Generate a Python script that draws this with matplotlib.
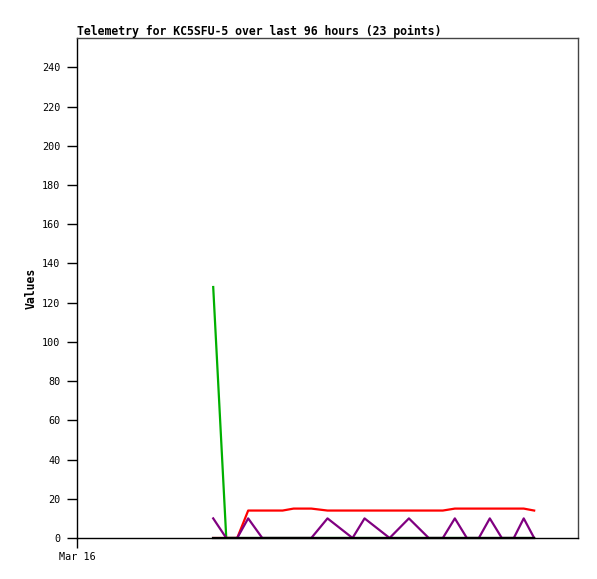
import matplotlib
matplotlib.use("Agg")
import matplotlib.pyplot as plt
import matplotlib.dates as mdates
import numpy as np
import pandas as pd

# hours after Mar 16 00:00 for each telemetry packet
hours = [26.1, 28.6, 30.7, 32.8, 35.5, 39.4, 41.5, 44.9, 48.0, 52.8, 55.1, 59.9,
         63.6, 67.4, 70.1, 72.4, 74.7, 77.0, 79.1, 81.4, 83.7, 85.6, 87.6]

green = [128, 0, 0, 0, 0, 0, 0, 0, 0, 0, 0, 0,
         0, 0, 0, 0, 0, 0, 0, 0, 0, 0, 0]
red = [0, 0, 0, 14, 14, 14, 15, 15, 14, 14, 14, 14,
       14, 14, 14, 15, 15, 15, 15, 15, 15, 15, 14]
purple = [10, 0, 0, 10, 0, 0, 0, 0, 10, 0, 10, 0,
          10, 0, 0, 10, 0, 0, 10, 0, 0, 10, 0]
black = [0] * 23

start = pd.Timestamp("2024-03-16 00:00")
times = start + pd.to_timedelta(hours, unit="h")
window_end = start + pd.Timedelta(hours=96)

mono = "DejaVu Sans Mono"

fig = plt.figure(figsize=(5.97, 5.79), dpi=100)
ax = fig.add_axes([77 / 597, 1 - 538 / 579, 501 / 597, 500 / 579])

ax.plot(times, green, color="#00b000", lw=1.6)
ax.plot(times, red, color="#ff0000", lw=1.6)
ax.plot(times, purple, color="#800080", lw=1.6)
ax.plot(times, black, color="black", lw=1.6, clip_on=False)

ax.set_xlim(start, window_end)
ax.set_ylim(0, 255)
ax.set_yticks(np.arange(0, 241, 20))
ax.set_xticks([start])
ax.xaxis.set_major_formatter(mdates.DateFormatter("%b %d"))

for s in ["top", "right"]:
    ax.spines[s].set_color("#444444")
for s in ["left", "bottom"]:
    ax.spines[s].set_color("black")
for s in ax.spines.values():
    s.set_linewidth(1)

ax.tick_params(axis="y", length=7, width=1, pad=5, labelsize=7.3)
ax.tick_params(axis="x", length=7, width=1, pad=3, labelsize=7.3)
for lbl in ax.get_xticklabels() + ax.get_yticklabels():
    lbl.set_family(mono)

ax.set_title("Telemetry for KC5SFU-5 over last 96 hours (23 points)",
             loc="left", fontsize=8.3, fontweight="bold", family=mono, pad=2)
ax.set_ylabel("Values", fontsize=8.3, fontweight="bold", family=mono, labelpad=3)

fig.savefig("out.png", dpi=100)
